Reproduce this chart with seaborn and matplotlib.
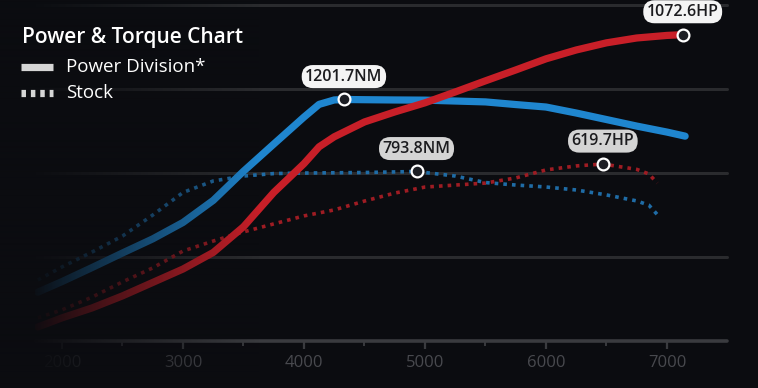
import numpy as np
import pandas as pd
import matplotlib
matplotlib.use("Agg")
import matplotlib.pyplot as plt
from matplotlib.lines import Line2D
import seaborn as sns

# ---------------- data ----------------
rpm_pd_hp = [1800, 2000, 2250, 2500, 2750, 3000, 3250, 3500, 3750, 4000, 4125, 4250, 4500,
             4750, 5000, 5250, 5500, 5750, 6000, 6250, 6500, 6750, 7000, 7130]
pd_hp = [49, 81, 116, 158, 205, 252, 310, 400, 520, 621, 680, 715, 767,
         802, 834, 872, 911, 949, 988, 1019, 1044, 1061, 1070, 1072.6]

rpm_pd_nm = [1800, 2000, 2250, 2500, 2750, 3000, 3250, 3500, 3750, 4000, 4125, 4250, 4330,
             4500, 4750, 5000, 5250, 5500, 5750, 6000, 6250, 6500, 6750, 7000, 7150]
pd_nm = [110, 170, 250, 332, 412, 505, 630, 795, 949, 1102, 1174, 1199, 1201.7,
         1200.5, 1199, 1198, 1193, 1188, 1173, 1159, 1125, 1088, 1051, 1017, 994]

rpm_st_hp = [1800, 2000, 2250, 2500, 2750, 3000, 3250, 3500, 3750, 4000, 4250, 4500,
             4750, 5000, 5250, 5500, 5750, 6000, 6250, 6470, 6750, 6850, 6920]
st_hp = [81, 109, 154, 207, 256, 315, 350, 382, 410, 438, 459, 490,
         518, 539, 546, 553, 571, 599, 613, 619.7, 601, 585, 553]

rpm_st_nm = [1800, 2000, 2250, 2500, 2750, 3000, 3250, 3500, 3750, 4000, 4500, 4930,
             5250, 5500, 5750, 6000, 6250, 6500, 6750, 6850, 6930]
st_nm = [179, 253, 338, 428, 547, 675, 740, 768, 782, 785, 788, 793.8,
         768, 731, 717, 706, 689, 661, 627, 603, 542]

major_ticks = [2000, 3000, 4000, 5000, 6000, 7000]
minor_ticks = [2500, 3500, 4500, 5500, 6500]

title = "Power & Torque Chart"
legend_labels = ["Power Division*", "Stock"]

# ---------------- style ----------------
sns.set_theme(style="dark")
plt.rcParams["font.family"] = ["Open Sans", "DejaVu Sans"]

BG = "#0b0c10"
RED = "#c81f28"
BLUE = "#1f86cf"
RED_D = "#9e1c23"
BLUE_D = "#1f6ca6"
GRID = "#2a2b2e"
AXC = "#3a3b3f"

W, H = 758, 388
fig = plt.figure(figsize=(W / 100, H / 100), dpi=100, facecolor=BG)

y_axis_px, y_top_px = 341, 2
ax = fig.add_axes([35 / W, (H - y_axis_px) / H, (727 - 35) / W, (y_axis_px - y_top_px) / H])
ax.set_facecolor(BG)
ax2 = ax.twinx()
ax.set_zorder(1)
ax2.set_zorder(2)
ax2.patch.set_visible(False)

ax.set_xlim(1777, 7496)
ax.set_ylim(-166.6, 1754)   # torque (NM)
ax2.set_ylim(0, 1187)       # power (HP)

# horizontal guide lines
for ypx in [257, 173, 89, 5]:
    f = (y_axis_px - ypx) / (y_axis_px - y_top_px)
    ax.plot([0, 1], [f, f], transform=ax.transAxes, color=GRID, lw=2.2,
            solid_capstyle="round", zorder=0.5, clip_on=False)

# spines / ticks
for s in ["top", "left", "right"]:
    ax.spines[s].set_visible(False)
    ax2.spines[s].set_visible(False)
ax2.spines["bottom"].set_visible(False)
ax.spines["bottom"].set_color(AXC)
ax.spines["bottom"].set_linewidth(2.6)
ax.spines["bottom"].set_capstyle("round")
ax.set_xticks(major_ticks)
ax.set_xticks(minor_ticks, minor=True)
ax.set_xticklabels([str(t) for t in major_ticks])
ax.tick_params(axis="x", which="major", bottom=True, length=6, width=1.6, color=AXC,
               direction="out", labelsize=12, labelcolor="#48494e", pad=4)
ax.tick_params(axis="x", which="minor", bottom=True, length=3.5, width=1.4, color=AXC,
               direction="out")
ax.set_yticks([])
ax2.set_yticks([])
ax.set_xlabel("")
ax.set_ylabel("")
ax2.set_ylabel("")

# ---------------- lines ----------------
dot = (0, (1.0, 1.4))
sns.lineplot(x=rpm_st_nm, y=st_nm, ax=ax, color=BLUE_D, lw=2.6, linestyle=dot,
             dash_capstyle="butt", sort=False, estimator=None, zorder=2)
sns.lineplot(x=rpm_pd_nm, y=pd_nm, ax=ax, color=BLUE, lw=5.2, sort=False, estimator=None,
             solid_capstyle="round", solid_joinstyle="round", zorder=3)
sns.lineplot(x=rpm_st_hp, y=st_hp, ax=ax2, color=RED_D, lw=2.6, linestyle=dot,
             dash_capstyle="butt", sort=False, estimator=None, zorder=2)
sns.lineplot(x=rpm_pd_hp, y=pd_hp, ax=ax2, color=RED, lw=5.2, sort=False, estimator=None,
             solid_capstyle="round", solid_joinstyle="round", zorder=3)
ax.set_xlim(1777, 7496)


def peak(a, xs, ys, unit, box_fc):
    i = int(np.argmax(ys))
    a.scatter([xs[i]], [ys[i]], s=72, facecolor="#1c1e24", edgecolor="white",
              linewidth=1.6, zorder=10)
    a.annotate(f"{ys[i]:.1f}{unit}", (xs[i], ys[i]), xytext=(0, 16.5),
               textcoords="offset points", ha="center", va="center", fontsize=11.5,
               fontweight="semibold", color="#1b1b1e", zorder=11,
               bbox=dict(boxstyle="round,pad=0.22,rounding_size=0.7", fc=box_fc, ec="none"))


peak(ax, rpm_pd_nm, pd_nm, "NM", "#f4f4f4")
peak(ax, rpm_st_nm, st_nm, "NM", "#d4d4d4")
peak(ax2, rpm_pd_hp, pd_hp, "HP", "#f4f4f4")
peak(ax2, rpm_st_hp, st_hp, "HP", "#d4d4d4")
if ax.get_legend():
    ax.get_legend().remove()
if ax2.get_legend():
    ax2.get_legend().remove()

# ---------------- left fade overlay ----------------
oax = fig.add_axes([0, 0, 1, 1], zorder=5)
oax.axis("off")
oax.patch.set_visible(False)
xs = np.arange(W) + 0.5
alpha = np.clip((260 - xs) / 230, 0, 1)
bg_rgb = np.array(matplotlib.colors.to_rgb(BG))
grad = np.zeros((1, W, 4))
grad[..., :3] = bg_rgb
grad[..., 3] = alpha
oax.imshow(grad, extent=[0, 1, 0, 1], aspect="auto", interpolation="bilinear")
oax.set_xlim(0, 1)
oax.set_ylim(0, 1)

# ---------------- title & legend ----------------
fig.text(22 / W, 1 - 37 / H, title, ha="left", va="center", fontsize=15,
         fontweight="semibold", color="white", zorder=20)
fig.text(66 / W, 1 - 67 / H, legend_labels[0], ha="left", va="center", fontsize=13.5,
         color="white", zorder=20)
fig.text(66 / W, 1 - 93 / H, legend_labels[1], ha="left", va="center", fontsize=13.5,
         color="white", zorder=20)
fig.add_artist(Line2D([21 / W, 53 / W], [1 - 67 / H] * 2, transform=fig.transFigure,
                      lw=5.2, color="#d6d6d6", solid_capstyle="butt", zorder=20))
fig.add_artist(Line2D([21 / W, 53 / W], [1 - 93 / H] * 2, transform=fig.transFigure,
                      lw=5.2, color="#d6d6d6", linestyle=(0, (0.62, 0.68)),
                      dash_capstyle="butt", zorder=20))

fig.savefig("out.png", dpi=100, facecolor=BG)
